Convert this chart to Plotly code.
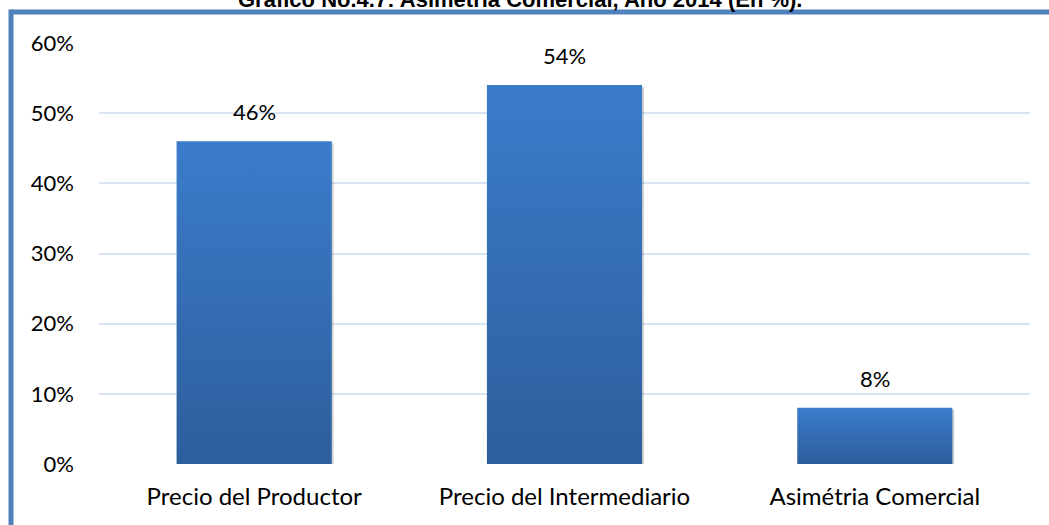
import plotly.graph_objects as go

categories = ["Precio del Productor", "Precio del Intermediario", "Asimétria Comercial"]
values = [0.46, 0.54, 0.08]
value_labels = ["46%", "54%", "8%"]
tick_vals = [0, 0.1, 0.2, 0.3, 0.4, 0.5, 0.6]
tick_text = ["0%", "10%", "20%", "30%", "40%", "50%", "60%"]
title_text = "Gráfico No.4.7: Asimetría Comercial, Año 2014 (En %)."

TOP_COLOR = "#3B7CCB"
BOTTOM_COLOR = "#2D5E9C"
HALF_W = 0.25
FONT = "Lato, Carlito, Calibri, 'Open Sans', sans-serif"

# layout geometry (figure pixels; page body margin removed so figure == screen)
ML, MR, MT, MB = 99, 19, 43, 61
W, H = 1049, 525
PW = W - ML - MR
PH = H - MT - MB


def px_x(px):
    return (px - ML) / PW


def px_y(py):
    return (H - MB - py) / PH


fig = go.Figure()

# shadows
for i, v in enumerate(values):
    xs = [i - HALF_W + 0.004, i + HALF_W + 0.006, i + HALF_W + 0.006, i - HALF_W + 0.004, i - HALF_W + 0.004]
    ys = [-0.004, -0.004, v - 0.003, v - 0.003, -0.004]
    fig.add_trace(go.Scatter(x=xs, y=ys, mode="lines", fill="toself",
                             fillcolor="rgba(0,0,0,0.18)", line=dict(width=0),
                             hoverinfo="skip", showlegend=False))

# bars with vertical gradient
for i, v in enumerate(values):
    xs = [i - HALF_W, i + HALF_W, i + HALF_W, i - HALF_W, i - HALF_W]
    ys = [0, 0, v, v, 0]
    fig.add_trace(go.Scatter(
        x=xs, y=ys, mode="lines", fill="toself",
        fillgradient=dict(type="vertical", start=0, stop=v,
                          colorscale=[[0, BOTTOM_COLOR], [1, TOP_COLOR]]),
        line=dict(width=0), hoverinfo="skip", showlegend=False))

for i, (v, lab) in enumerate(zip(values, value_labels)):
    fig.add_annotation(x=i, y=v, text=lab, showarrow=False, yanchor="bottom",
                       yshift=14, font=dict(family=FONT, size=22, color="#000000"))

fig.add_annotation(xref="paper", yref="paper", x=px_x(520), y=px_y(-1), text="<b>" + title_text + "</b>",
                   showarrow=False, xanchor="center", yanchor="middle",
                   font=dict(family="'Liberation Sans Narrow', 'Arial Narrow', 'Liberation Sans', Arial",
                             size=22, color="#000000"))

# frame border (top and left)
fig.add_shape(type="line", xref="paper", yref="paper", x0=px_x(11), x1=px_x(1100), y0=px_y(12), y1=px_y(12),
              line=dict(color="#4F81BD", width=5))
fig.add_shape(type="line", xref="paper", yref="paper", x0=px_x(11), x1=px_x(11), y0=px_y(9.5), y1=px_y(600),
              line=dict(color="#4F81BD", width=5))

fig.update_layout(
    width=W, height=H,
    margin=dict(l=ML, r=MR, t=MT, b=MB),
    paper_bgcolor="white", plot_bgcolor="white",
    showlegend=False,
    xaxis=dict(range=[-0.5, 2.5], tickmode="array", tickvals=[0, 1, 2], ticktext=categories,
               showgrid=False, zeroline=False, showline=False, ticks="", ticklabelstandoff=16,
               tickfont=dict(family=FONT, size=24, color="#000000"), fixedrange=True),
    yaxis=dict(range=[0, 0.6], tickmode="array", tickvals=tick_vals, ticktext=tick_text,
               showgrid=True, gridcolor="#D9E4F3", gridwidth=2, zeroline=False, showline=False,
               ticks="", ticklabelstandoff=24,
               tickfont=dict(family=FONT, size=22, color="#000000"), fixedrange=True),
)

fig.write_html("out.html", config={"displayModeBar": False},
               post_script="document.body.style.margin='0';")
